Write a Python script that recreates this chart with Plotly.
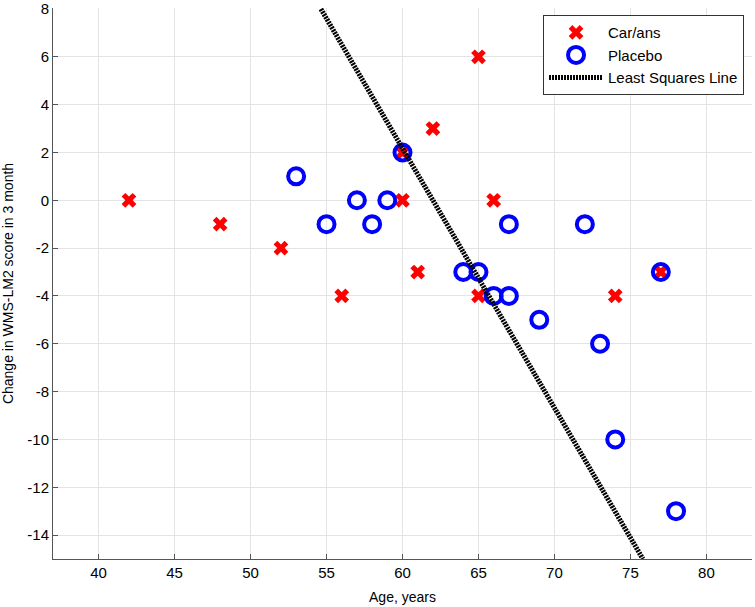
import plotly.graph_objects as go

# Car/ans group
carans_age = [42, 48, 52, 56, 60, 60, 61, 62, 65, 65, 66, 74, 77]
carans_change = [0, -1, -2, -4, 2, 0, -3, 3, 6, -4, 0, -4, -3]

# Placebo group
placebo_age = [53, 55, 57, 58, 59, 60, 64, 65, 66, 67, 67, 69, 72, 73, 74, 77, 78]
placebo_change = [1, -1, 0, -1, 0, 2, -3, -3, -4, -4, -1, -5, -1, -6, -10, -3, -13]

# Least squares line (end points)
ls_x = [54.63, 75.82]
ls_y = [8, -15]

x_ticks = [40, 45, 50, 55, 60, 65, 70, 75, 80]
x_ticklabels = ["40", "45", "50", "55", "60", "65", "70", "75", "80"]
y_ticks = [8, 6, 4, 2, 0, -2, -4, -6, -8, -10, -12, -14]
y_ticklabels = ["8", "6", "4", "2", "0", "-2", "-4", "-6", "-8", "-10", "-12", "-14"]

FONT = "Liberation Sans, Arial, Helvetica, sans-serif"

fig = go.Figure()
fig.add_trace(go.Scatter(
    x=carans_age, y=carans_change, mode="markers", name="Car/ans",
    marker=dict(symbol="x", size=13, color="#ff0000", line=dict(width=0)),
))
fig.add_trace(go.Scatter(
    x=placebo_age, y=placebo_change, mode="markers", name="Placebo",
    marker=dict(symbol="circle-open", size=16, color="#0000ff",
                line=dict(width=4, color="#0000ff")),
))
fig.add_trace(go.Scatter(
    x=ls_x, y=ls_y, mode="lines", name="Least Squares Line",
    line=dict(color="#000000", width=5, dash="2px,1px"),
))

axis_common = dict(
    showgrid=True, gridcolor="#e3e3e3", gridwidth=1,
    showline=True, linecolor="#555555", linewidth=1,
    ticks="inside", ticklen=5, tickcolor="#555555", tickwidth=1,
    zeroline=False, mirror=False, automargin=False,
    tickfont=dict(family=FONT, size=15, color="#000000"),
    tickmode="array", ticklabeloverflow="allow",
)

fig.update_layout(
    width=755, height=607,
    margin=dict(l=53, r=3, t=8, b=48, autoexpand=False),
    paper_bgcolor="white", plot_bgcolor="white",
    font=dict(family=FONT, size=14, color="#000000"),
    xaxis=dict(range=[37, 83], tickvals=x_ticks, ticktext=x_ticklabels,
               title=dict(text="Age, years", font=dict(family=FONT, size=14), standoff=12),
               **axis_common),
    yaxis=dict(range=[-15, 8.04], tickvals=y_ticks, ticktext=y_ticklabels,
               title=dict(text="Change in WMS-LM2 score in 3 month",
                          font=dict(family=FONT, size=14), standoff=15),
               **axis_common),
    legend=dict(
        x=0.9886, y=0.987, xanchor="right", yanchor="top",
        bgcolor="white", bordercolor="#333333", borderwidth=1,
        font=dict(family=FONT, size=15, color="#000000"),
        tracegroupgap=0, itemwidth=54,
    ),
    showlegend=True,
)

fig.write_html("out.html", config={"displayModeBar": False},
               post_script="document.body.style.margin='0';")
